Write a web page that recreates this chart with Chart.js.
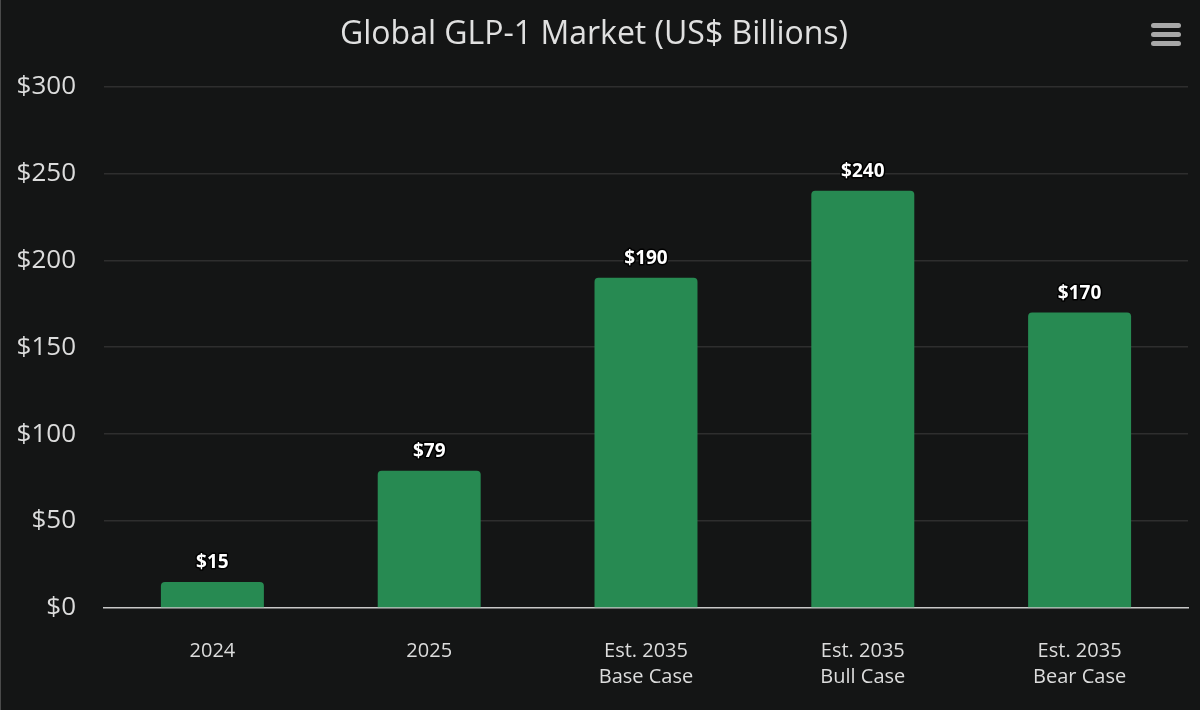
<!DOCTYPE html>
<html>
<head>
<meta charset="utf-8">
<title>Global GLP-1 Market</title>
<script src="https://cdn.jsdelivr.net/npm/chart.js@4/dist/chart.umd.min.js"></script>
<style>
  html, body { margin: 0; padding: 0; background: #141515; }
  #wrap { position: relative; width: 1200px; height: 710px; }
  #edge { position: absolute; left: 0; top: 0; width: 1px; height: 710px; background: #4a4a4a; }
  #menu { position: absolute; left: 1151px; top: 23px; width: 30px; }
  #menu span { display: block; height: 5px; margin-bottom: 4px; border-radius: 3px; background: #a8a8a8; }
</style>
</head>
<body>
<div id="wrap">
  <canvas id="myChart"></canvas>
  <div id="edge"></div>
  <div id="menu"><span></span><span></span><span></span></div>
</div>
<script>
// categories and values (US$ billions)
var categories = [["2024"], ["2025"], ["Est. 2035", "Base Case"], ["Est. 2035", "Bull Case"], ["Est. 2035", "Bear Case"]];
var marketSize = [15, 79, 190, 240, 170];
var yTicks = [0, 50, 100, 150, 200, 250, 300];

var FONT = "'Open Sans', 'Noto Sans', sans-serif";

// value labels above each bar, white with a dark outline
var barLabels = {
    id: 'barLabels',
    afterDatasetsDraw: function (chart) {
        var ctx = chart.ctx;
        var meta = chart.getDatasetMeta(0);
        ctx.save();
        ctx.font = 'bold 19px ' + FONT;
        ctx.textAlign = 'center';
        ctx.textBaseline = 'middle';
        ctx.lineJoin = 'round';
        meta.data.forEach(function (bar, i) {
            var text = '$' + chart.data.datasets[0].data[i];
            var y = bar.y - 19;
            ctx.lineWidth = 3;
            ctx.strokeStyle = '#000000';
            ctx.strokeText(text, bar.x, y);
            ctx.fillStyle = '#ffffff';
            ctx.fillText(text, bar.x, y);
        });
        ctx.restore();
    }
};

var ctx = document.getElementById('myChart').getContext('2d');
var chart = new Chart(ctx, {
    type: 'bar',
    data: {
        labels: categories,
        datasets: [{
            label: 'Global GLP-1 Market',
            data: marketSize,
            backgroundColor: '#278a52',
            borderWidth: 0,
            borderRadius: { topLeft: 4, topRight: 4, bottomLeft: 0, bottomRight: 0 },
            borderSkipped: 'bottom',
            barPercentage: 0.475,
            categoryPercentage: 1.0
        }]
    },
    options: {
        responsive: true,
        maintainAspectRatio: false,
        animation: false,
        devicePixelRatio: 1,
        layout: { padding: { left: 0, right: 12, top: 0, bottom: 0 } },
        plugins: {
            legend: { display: false },
            tooltip: { enabled: false },
            title: {
                display: true,
                text: 'Global GLP-1 Market (US$ Billions)',
                color: '#e0e0e0',
                font: { family: FONT, size: 32, weight: 'normal' },
                padding: { top: 16, bottom: 32 }
            }
        },
        scales: {
            x: {
                afterFit: function (scale) { scale.height = 102; },
                grid: { display: false },
                border: { display: true, color: '#c8c8c8', width: 1.5 },
                ticks: {
                    color: '#dcdcdc',
                    font: { family: FONT, size: 20, lineHeight: 1.3 },
                    padding: 22,
                    maxRotation: 0
                }
            },
            y: {
                min: 0,
                max: 300,
                afterFit: function (scale) { scale.width = 104; },
                afterBuildTicks: function (scale) {
                    scale.ticks = yTicks.map(function (v) { return { value: v }; });
                },
                grid: {
                    color: function (c) { return c.tick && c.tick.value === 0 ? 'rgba(0,0,0,0)' : '#2e2e2e'; },
                    lineWidth: 1.5,
                    drawTicks: false
                },
                border: { display: false },
                ticks: {
                    color: '#dcdcdc',
                    font: { family: FONT, size: 26 },
                    padding: 28,
                    callback: function (v) { return '$' + v; }
                }
            }
        }
    },
    plugins: [barLabels]
});
</script>
</body>
</html>
